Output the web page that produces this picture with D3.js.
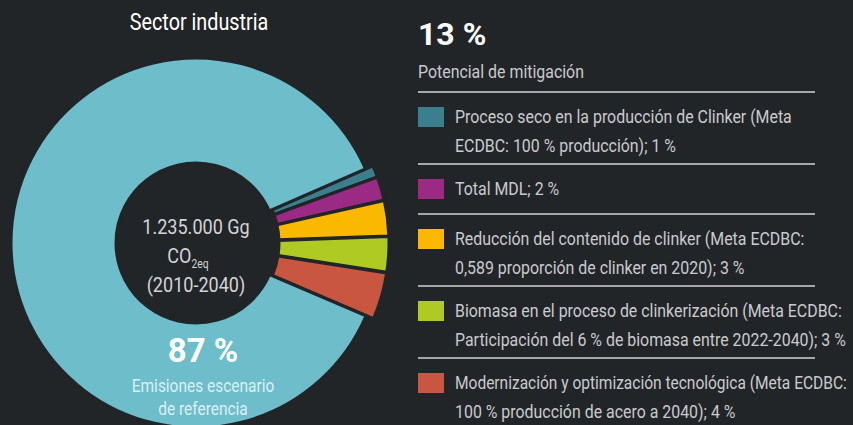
<!DOCTYPE html>
<html lang="es">
<head>
    <meta charset="UTF-8">
    <script src="https://cdn.jsdelivr.net/npm/d3@7"></script>
    <title>Sector industria</title>
    <style>
        html, body { margin: 0; padding: 0; background: #222528; }
        svg { display: block; }
        text { font-family: "Roboto", "Liberation Sans", sans-serif; }
    </style>
</head>
<body>
    <div id="chart"></div>
    <script>
        // ---------- data ----------
        const categories = [
            "Proceso seco en la producción de Clinker",
            "Total MDL",
            "Reducción del contenido de clinker",
            "Biomasa en el proceso de clinkerización",
            "Modernización y optimización tecnológica",
            "Emisiones escenario de referencia"
        ];
        const shares = [1, 2, 3, 3, 4, 87];
        const colors = ["#3b7f8c", "#9a2a84", "#fbb800", "#afcb23", "#c95641", "#6dbdcb"];
        const legendLines = [
            ["Proceso seco en la producción de Clinker (Meta", "ECDBC: 100 % producción); 1 %"],
            ["Total MDL; 2 %"],
            ["Reducción del contenido de clinker (Meta ECDBC:", "0,589 proporción de clinker en 2020); 3 %"],
            ["Biomasa en el proceso de clinkerización (Meta ECDBC:", "Participación del 6 % de biomasa entre 2022-2040); 3 %"],
            ["Modernización y optimización tecnológica (Meta ECDBC:", "100 % producción de acero a 2040); 4 %"]
        ];
        const title = "Sector industria";
        const mitigationTotal = "13 %";
        const mitigationLabel = "Potencial de mitigación";
        const baseShare = "87 %";
        const baseLabel = ["Emisiones escenario", "de referencia"];

        // ---------- layout ----------
        const width = 853, height = 425;
        const bg = "#222528";
        const cx = 196, cy = 243;
        const rInner = 80, rOuter = 185;
        const squeeze = 0.86; // the original uses a condensed face

        const svg = d3.select("#chart").append("svg")
            .attr("width", width)
            .attr("height", height);

        svg.append("rect").attr("width", width).attr("height", height).attr("fill", bg);

        // condensed text helper (maxW: optional limit on the drawn width)
        const label = (parent, x, y, txt, size, fill, anchor = "start", maxW = null) => {
            const t = parent.append("text")
                .attr("text-anchor", anchor)
                .attr("fill", fill)
                .style("font-size", size + "px")
                .text(txt);
            let sx = squeeze;
            if (maxW && txt) {
                const w = t.node().getComputedTextLength();
                if (w * sx > maxW) sx = maxW / w;
            }
            t.attr("transform", `translate(${x},${y}) scale(${sx},1)`);
            return t;
        };

        // title
        label(svg, 199, 30, title, 23, "#ffffff", "middle");

        // donut
        const pie = d3.pie()
            .sort(null)
            .value(d => d)
            .startAngle(66.4 * Math.PI / 180)
            .endAngle(66.4 * Math.PI / 180 + 2 * Math.PI);

        const arcs = pie(shares);
        const last = shares.length - 1;

        const arcBase = d3.arc().innerRadius(rInner).outerRadius(rOuter);
        const arcMit = d3.arc().innerRadius(rInner).outerRadius(rOuter + 5);

        const g = svg.append("g").attr("transform", `translate(${cx},${cy})`);

        g.selectAll("path")
            .data(arcs)
            .enter()
            .append("path")
            .attr("d", (d, i) => i === last ? arcBase(d) : arcMit(d))
            .attr("transform", (d, i) => {
                if (i === last) return null;
                // push the mitigation wedges out a little
                const a = (d.startAngle + d.endAngle) / 2;
                return `translate(${3 * Math.sin(a)},${-3 * Math.cos(a)})`;
            })
            .attr("fill", (d, i) => colors[i])
            .attr("stroke", bg)
            .attr("stroke-width", 3)
            .attr("stroke-linejoin", "round");

        // centre text
        const centre = svg.append("g");
        label(centre, cx, 234, "1.235.000 Gg", 21, "#d2d4d6", "middle");
        const co2 = label(centre, cx - 8, 263, "", 21, "#d2d4d6", "middle");
        co2.append("tspan").text("CO");
        co2.append("tspan").attr("dy", 5).style("font-size", "12px").text("2eq");
        label(centre, cx, 292, "(2010-2040)", 21, "#d2d4d6", "middle");

        // 87 %
        svg.append("text")
            .attr("x", 203).attr("y", 362)
            .attr("text-anchor", "middle")
            .attr("fill", "#ffffff")
            .style("font-size", "33px")
            .style("font-weight", "bold")
            .text(baseShare);

        baseLabel.forEach((t, i) => label(svg, 203, 392 + i * 23, t, 18, "#dcf0f3", "middle"));

        // ---------- right panel ----------
        const lx = 418, lw = 397, tx = 455;

        svg.append("text")
            .attr("x", lx).attr("y", 45)
            .attr("fill", "#ffffff")
            .style("font-size", "32px")
            .style("font-weight", "bold")
            .text(mitigationTotal);

        label(svg, lx, 78, mitigationLabel, 18.5, "#c9cbcd");

        let y = 92;
        const legend = svg.append("g");
        legendLines.forEach((lines, i) => {
            legend.append("line")
                .attr("x1", lx).attr("x2", lx + lw)
                .attr("y1", y).attr("y2", y)
                .attr("stroke", "#d0d2d4")
                .attr("stroke-width", 1.5);

            legend.append("rect")
                .attr("x", lx).attr("y", y + 15)
                .attr("width", 26).attr("height", 20)
                .attr("fill", colors[i]);

            lines.forEach((t, j) => {
                label(legend, tx, y + 31 + j * 29, t, 18.5, "#c9cbcd", "start", width - tx - 6);
            });

            y += 28 + 22 * lines.length;
        });
    </script>
</body>
</html>
